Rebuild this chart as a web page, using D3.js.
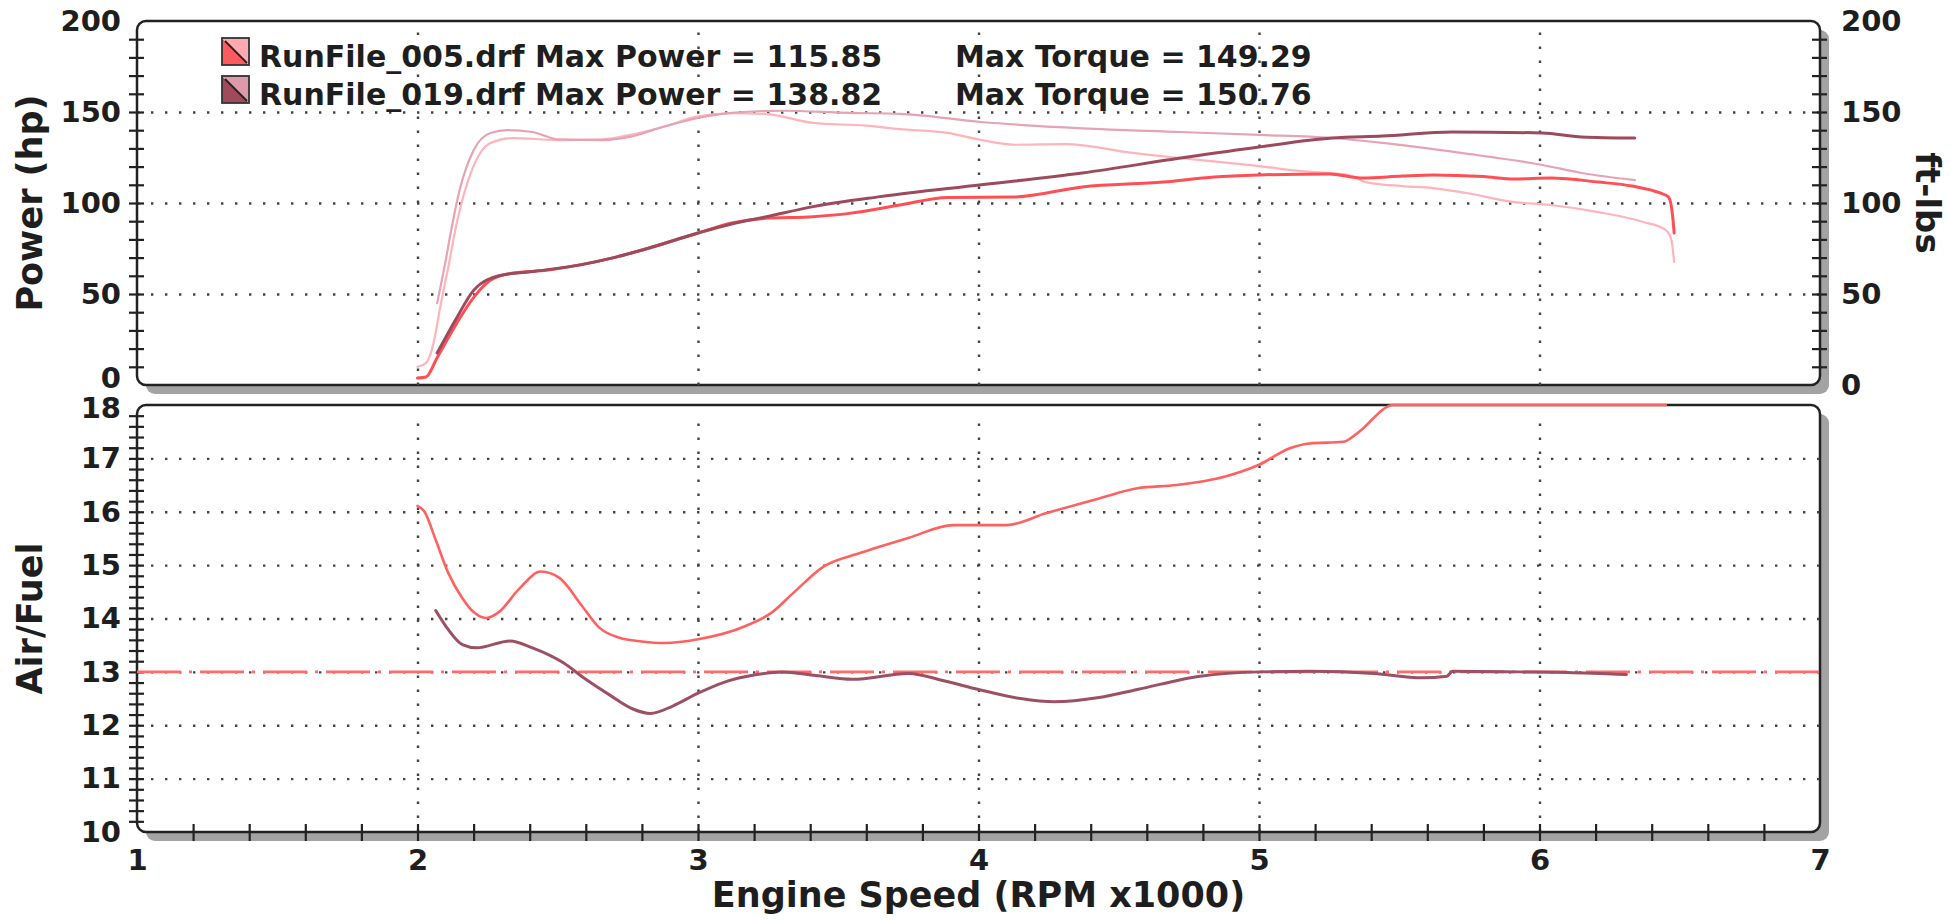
<!DOCTYPE html>
<html lang="en">
<head>
<meta charset="UTF-8">
<title>Dyno Run</title>
<style>
    body{margin:0;background:#fff;}
    svg{display:block;}
    text{font-family:"DejaVu Sans",Verdana,sans-serif;font-weight:bold;fill:#1e1e1e;}
</style>
<script src="https://cdn.jsdelivr.net/npm/d3@7/dist/d3.min.js"></script>
</head>
<body>
<div id="container"></div>
<script>
// ---- data (rpm x1000, value) ----
var rpmTicks = [1, 2, 3, 4, 5, 6, 7];
var powerTicks = [0, 50, 100, 150, 200];
var afrTicks = [10, 11, 12, 13, 14, 15, 16, 17, 18];
var afrTarget = 13;

var runNames = ['RunFile_005.drf', 'RunFile_019.drf'];
var maxPower = ['115.85', '138.82'];
var maxTorque = ['149.29', '150.76'];

var power005 = [[2.00,3.8],[2.03,4.4],[2.07,15],[2.14,34],[2.20,48],[2.26,57.5],[2.34,61.5],[2.46,63],
    [2.58,66],[2.70,70],[2.82,75],[3.00,83.5],[3.12,89],[3.24,91.6],[3.41,92.5],[3.54,94.3],[3.72,98.9],
    [3.89,103],[4.13,103.3],[4.37,108.8],[4.66,111.5],[4.84,114.3],[5.00,115.4],[5.25,116],[5.37,113.7],
    [5.51,114.8],[5.62,115.4],[5.80,114.5],[5.91,113.2],[6.04,113.7],[6.21,111.5],[6.33,109.3],
    [6.43,105.5],[6.46,103.3],[6.475,92.3],[6.48,83.5]];
var torque005 = [[2.00,10],[2.03,12],[2.06,25],[2.08,42],[2.11,65],[2.14,89],[2.19,116.5],[2.26,133],
    [2.34,135.7],[2.50,134.6],[2.66,135],[2.76,137.5],[2.88,142],[3.00,147.6],[3.12,149.3],[3.24,149],
    [3.30,147.5],[3.41,144],[3.60,142.5],[3.72,140.6],[3.89,138.5],[4.01,134.6],[4.13,132],[4.31,132.4],
    [4.55,127.5],[4.72,124.7],[5.00,120.3],[5.14,117.6],[5.32,115.4],[5.38,111.5],[5.51,109.3],
    [5.62,108.2],[5.74,105.5],[5.91,100.5],[6.04,98.9],[6.21,95],[6.37,89.6],[6.45,85.2],[6.47,79.7],[6.48,67.6]];
var power019 = [[2.07,17.6],[2.14,37],[2.20,52],[2.29,60],[2.42,62.5],[2.58,66],[2.70,70],[2.82,75],
    [3.00,83.5],[3.12,88.5],[3.24,92.3],[3.41,98],[3.65,103.5],[4.01,110],[4.37,116.5],[4.72,124.7],
    [5.00,130.8],[5.26,135.7],[5.44,136.8],[5.69,139],[6.01,138.5],[6.15,136.3],[6.34,135.7]];
var torque019 = [[2.07,45],[2.10,68],[2.12,85],[2.15,107],[2.20,129],[2.26,138.5],[2.32,140],[2.41,139],
    [2.50,135],[2.66,134.6],[2.76,136.5],[2.88,142],[3.00,146.7],[3.12,149.5],[3.30,150.7],[3.54,149.5],
    [3.72,149],[4.01,144.5],[4.37,141],[4.72,139],[5.00,137.4],[5.26,135.7],[5.44,133],[5.72,127.5],
    [6.01,120.9],[6.15,116.5],[6.34,112.6]];
var afr005 = [[2.00,16.11],[2.025,16.0],[2.065,15.47],[2.11,14.85],[2.16,14.38],[2.20,14.12],[2.245,14.01],
    [2.29,14.12],[2.36,14.54],[2.44,14.88],[2.506,14.76],[2.587,14.23],[2.65,13.82],[2.72,13.64],[2.80,13.57],
    [2.88,13.54],[3.00,13.61],[3.17,13.86],[3.26,14.1],[3.34,14.48],[3.45,14.98],[3.58,15.23],[3.75,15.51],
    [3.91,15.75],[4.00,15.75],[4.10,15.75],[4.24,15.97],[4.43,16.25],[4.566,16.44],[4.706,16.5],[4.88,16.66],
    [5.00,16.88],[5.11,17.19],[5.18,17.28],[5.30,17.31],[5.35,17.47],[5.48,18],[6.45,18]];
var afr019 = [[2.065,14.15],[2.11,13.79],[2.16,13.51],[2.21,13.45],[2.33,13.58],[2.41,13.45],[2.52,13.17],
    [2.60,12.86],[2.69,12.55],[2.77,12.3],[2.83,12.22],[2.91,12.36],[3.00,12.6],[3.09,12.8],[3.21,12.95],
    [3.30,13.0],[3.42,12.93],[3.55,12.86],[3.75,12.97],[3.88,12.83],[4.00,12.67],[4.15,12.5],[4.27,12.44],
    [4.43,12.52],[4.566,12.67],[4.79,12.92],[5.00,13.0],[5.18,13.01],[5.41,12.97],[5.58,12.89],
    [5.67,12.92],[5.69,13.01],[5.93,13.0],[6.10,12.99],[6.31,12.95]];

// ---- layout ----
var w = 1950, h = 921;
var left = 137, right = 1820;
var topPanel = {y0: 21, y1: 385}, botPanel = {y0: 405, y1: 832};

var svg = d3.select('#container').append('svg').attr('width', w).attr('height', h);

var x = d3.scaleLinear().domain([1, 7]).range([left, right]);
var yPow = d3.scaleLinear().domain([0, 200]).range([topPanel.y1, topPanel.y0]);
var yAfr = d3.scaleLinear().domain([10, 18]).range([botPanel.y1, botPanel.y0]);

// panels with drop shadow
[topPanel, botPanel].forEach(function (p) {
    svg.append('rect').attr('x', left + 9).attr('y', p.y0 + 9)
        .attr('width', right - left).attr('height', p.y1 - p.y0)
        .attr('rx', 9).attr('fill', '#a3a3a3');
    svg.append('rect').attr('x', left).attr('y', p.y0)
        .attr('width', right - left).attr('height', p.y1 - p.y0)
        .attr('rx', 9).attr('fill', '#fff').attr('stroke', '#222').attr('stroke-width', 2.5);
});

// dotted grid
function grid(g) {
    g.select('.domain').remove();
    g.selectAll('.tick line').attr('stroke', '#444').attr('stroke-width', 2.4)
        .attr('stroke-dasharray', '2.4,11.6');
}
svg.append('g').attr('transform', 'translate(' + left + ',0)')
    .call(d3.axisLeft(yPow).tickValues([50, 100, 150]).tickSize(-(right - left)).tickFormat(''))
    .call(grid);
svg.append('g').attr('transform', 'translate(' + left + ',0)')
    .call(d3.axisLeft(yAfr).tickValues(afrTicks.slice(1, -1)).tickSize(-(right - left)).tickFormat(''))
    .call(grid);
svg.append('g').attr('transform', 'translate(0,' + topPanel.y1 + ')')
    .call(d3.axisTop(x).tickValues(rpmTicks.slice(1, -1)).tickSize(topPanel.y1 - topPanel.y0 - 8).tickFormat(''))
    .call(grid);
svg.append('g').attr('transform', 'translate(0,' + botPanel.y1 + ')')
    .call(d3.axisTop(x).tickValues(rpmTicks.slice(1, -1)).tickSize(botPanel.y1 - botPanel.y0 - 8).tickFormat(''))
    .call(grid);

// crossing tick marks
function marks(g) {
    g.select('.domain').remove();
    g.selectAll('.tick line').attr('stroke', '#222').attr('stroke-width', 2.2);
}
var powMinor = d3.range(10, 200, 10);
svg.append('g').attr('transform', 'translate(' + (left + 7) + ',0)')
    .call(d3.axisLeft(yPow).tickValues(powMinor).tickSize(15).tickFormat('')).call(marks);
svg.append('g').attr('transform', 'translate(' + (right + 7) + ',0)')
    .call(d3.axisLeft(yPow).tickValues(powMinor).tickSize(15).tickFormat('')).call(marks);
svg.append('g').attr('transform', 'translate(' + (left + 7) + ',0)')
    .call(d3.axisLeft(yAfr).tickValues(d3.range(10.2, 17.9, 0.2)).tickSize(15).tickFormat('')).call(marks);
svg.append('g').attr('transform', 'translate(0,' + (botPanel.y1 - 8) + ')')
    .call(d3.axisBottom(x).tickValues(d3.range(1.2, 6.9, 0.2)).tickSize(17).tickFormat('')).call(marks);

// tick labels
function labels(g) {
    g.select('.domain').remove();
    g.selectAll('text').attr('font-size', 29).attr('fill', '#1e1e1e')
        .attr('font-family', '"DejaVu Sans",Verdana,sans-serif');
}
var intFmt = d3.format('d');
svg.append('g').attr('transform', 'translate(121,0)')
    .call(d3.axisLeft(yPow).tickValues(powerTicks).tickSize(0).tickPadding(0).tickFormat(intFmt)).call(labels)
    .selectAll('.tick').filter(function (d) { return d === 0; }).select('text').attr('dy', '0.08em');
svg.append('g').attr('transform', 'translate(1841,0)')
    .call(d3.axisRight(yPow).tickValues(powerTicks).tickSize(0).tickPadding(0).tickFormat(intFmt)).call(labels);
svg.append('g').attr('transform', 'translate(121,0)')
    .call(d3.axisLeft(yAfr).tickValues(afrTicks).tickSize(0).tickPadding(0).tickFormat(intFmt)).call(labels)
    .selectAll('.tick').filter(function (d) { return d === 18; }).select('text').attr('dy', '0.42em');
svg.append('g').attr('transform', 'translate(0,849)')
    .call(d3.axisBottom(x).tickValues(rpmTicks).tickSize(0).tickPadding(0).tickFormat(intFmt)).call(labels);

// axis titles
svg.append('text').attr('transform', 'translate(42,' + yPow(100) + ') rotate(-90)')
    .attr('text-anchor', 'middle').attr('font-size', 35).text('Power (hp)');
svg.append('text').attr('transform', 'translate(42,' + yAfr(14) + ') rotate(-90)')
    .attr('text-anchor', 'middle').attr('font-size', 35).text('Air/Fuel');
svg.append('text').attr('transform', 'translate(1916,' + yPow(100) + ') rotate(90)')
    .attr('text-anchor', 'middle').attr('font-size', 34).text('ft-lbs');
svg.append('text').attr('x', x(4)).attr('y', 907)
    .attr('text-anchor', 'middle').attr('font-size', 35).text('Engine Speed (RPM x1000)');

// target AFR line
svg.append('line').attr('x1', left).attr('x2', right)
    .attr('y1', yAfr(afrTarget)).attr('y2', yAfr(afrTarget))
    .attr('stroke', '#ff6b6b').attr('stroke-width', 2.6).attr('stroke-dasharray', '44,8,3,8');

// curves
var powLine = d3.line().x(function (d) { return x(d[0]); }).y(function (d) { return yPow(d[1]); })
    .curve(d3.curveMonotoneX);
var afrLine = d3.line().x(function (d) { return x(d[0]); }).y(function (d) { return yAfr(d[1]); })
    .curve(d3.curveMonotoneX);

var series = [
    {data: torque005, line: powLine, color: '#ffb3bb', width: 2.2},
    {data: torque019, line: powLine, color: '#e6a3b4', width: 2.2},
    {data: power005, line: powLine, color: '#ff4f55', width: 3},
    {data: power019, line: powLine, color: '#9c4a5c', width: 3},
    {data: afr005, line: afrLine, color: '#ff6161', width: 2.6},
    {data: afr019, line: afrLine, color: '#9c5064', width: 3}
];
svg.selectAll('path.run').data(series).enter().append('path')
    .attr('class', 'run')
    .attr('d', function (d) { return d.line(d.data); })
    .attr('fill', 'none')
    .attr('stroke', function (d) { return d.color; })
    .attr('stroke-width', function (d) { return d.width; })
    .attr('stroke-linejoin', 'round').attr('stroke-linecap', 'round');

// legend
var swatchColors = [['#ff5a5f', '#ffaab0'], ['#a04a5c', '#dc9aaa']];
var legend = svg.selectAll('g.legend').data(runNames).enter().append('g')
    .attr('class', 'legend')
    .attr('transform', function (d, i) { return 'translate(222,' + (38 + i * 38) + ')'; });
legend.append('path').attr('d', 'M0,0L0,27L27,27Z')
    .attr('fill', function (d, i) { return swatchColors[i][0]; });
legend.append('path').attr('d', 'M0,0L27,0L27,27Z')
    .attr('fill', function (d, i) { return swatchColors[i][1]; });
legend.append('rect').attr('width', 27).attr('height', 27)
    .attr('fill', 'none').attr('stroke', '#333').attr('stroke-width', 1.8);
legend.append('line').attr('x1', 3).attr('y1', 3).attr('x2', 25).attr('y2', 25)
    .attr('stroke', '#222').attr('stroke-width', 1.8);
legend.append('text').attr('x', 37).attr('y', 29).attr('font-size', 30)
    .text(function (d, i) { return d + ' Max Power = ' + maxPower[i]; });
legend.append('text').attr('x', 733).attr('y', 29).attr('font-size', 30)
    .text(function (d, i) { return 'Max Torque = ' + maxTorque[i]; });
</script>
</body>
</html>
